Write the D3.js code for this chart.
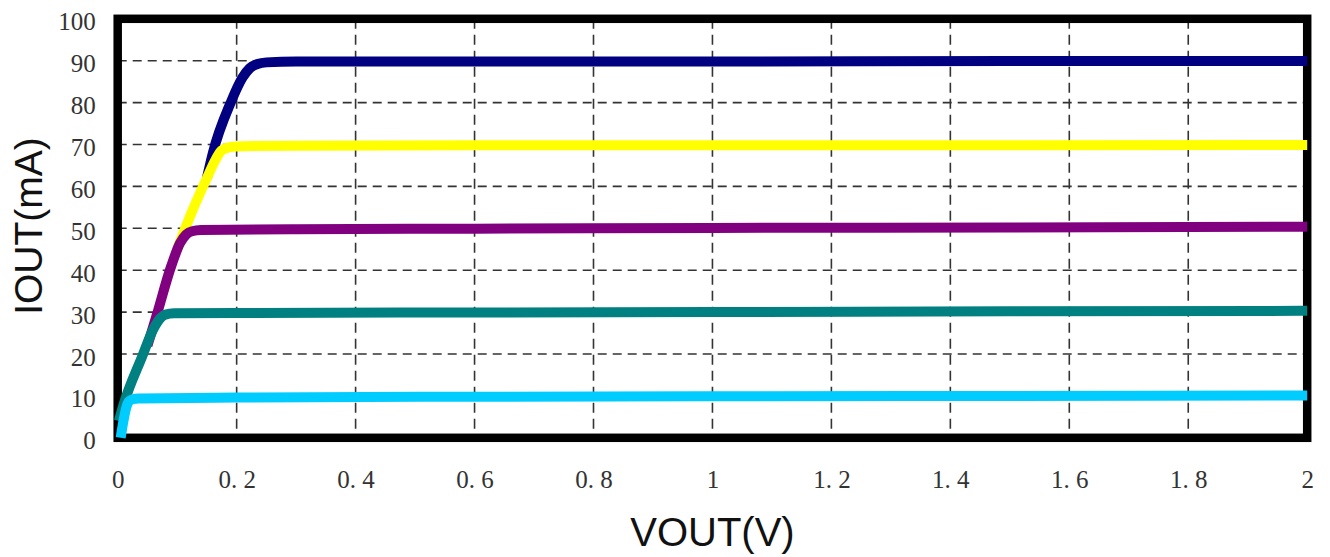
<!DOCTYPE html>
<html lang="en">
<head>
    <meta charset="UTF-8">
    <title>IOUT vs VOUT</title>
    <script src="https://d3js.org/d3.v7.min.js"></script>
    <style>
        body { margin: 0; background: #fff; }
    </style>
</head>
<body>
    <script>

        // tick values
        var xTicks = [0, 0.2, 0.4, 0.6, 0.8, 1, 1.2, 1.4, 1.6, 1.8, 2]
        var yTicks = [0, 10, 20, 30, 40, 50, 60, 70, 80, 90, 100]

        // curves (VOUT in V, IOUT in mA)
        var navyV = [0.15, 0.16, 0.19, 0.21, 0.222, 0.235, 0.25, 0.3, 0.6, 1, 1.5, 2]
        var navyI = [62, 68, 80, 86, 88.2, 89.2, 89.6, 89.8, 89.8, 89.8, 89.9, 89.9]

        var yellowV = [0.1, 0.125, 0.15, 0.165, 0.175, 0.19, 0.21, 0.3, 0.6, 1, 1.5, 2]
        var yellowI = [45, 54, 62, 66.5, 68.6, 69.4, 69.6, 69.7, 69.8, 69.8, 69.8, 69.9]

        var purpleV = [0.05, 0.065, 0.09, 0.105, 0.115, 0.125, 0.14, 0.3, 0.6, 1, 1.5, 2]
        var purpleI = [22, 29, 41, 46.5, 48.5, 49.3, 49.6, 49.8, 49.9, 50.1, 50.2, 50.4]

        var tealV = [0.002, 0.01, 0.04, 0.062, 0.072, 0.08, 0.095, 0.2, 0.6, 1, 1.5, 2]
        var tealI = [4, 8, 19, 26.5, 28.6, 29.4, 29.7, 29.8, 29.9, 30, 30.2, 30.3]

        var cyanV = [0.005, 0.009, 0.014, 0.019, 0.025, 0.035, 0.2, 0.6, 1, 1.5, 2]
        var cyanI = [0, 3.5, 7, 8.7, 9.2, 9.4, 9.6, 9.8, 9.9, 10, 10.1]

        var series = [
            {name: '90mA', v: navyV, i: navyI, color: '#000080'},
            {name: '70mA', v: yellowV, i: yellowI, color: '#ffff00'},
            {name: '50mA', v: purpleV, i: purpleI, color: '#800080'},
            {name: '30mA', v: tealV, i: tealI, color: '#008080'},
            {name: '10mA', v: cyanV, i: cyanI, color: '#00ccff'}
        ]

        var w = 1330, h = 557

        var svg = d3.select('body')
                    .append('svg')
                    .attr('width', w)
                    .attr('height', h)

        var xScale = d3.scaleLinear()
                        .domain([0, 2])
                        .range([117.7, 1307.2])

        var yScale = d3.scaleLinear()
                        .domain([0, 100])
                        .range([437.8, 18.8])

        // dashed grid
        svg.append('g')
            .selectAll('line')
            .data(yTicks.slice(1, -1))
            .enter()
            .append('line')
            .attr('x1', xScale(0))
            .attr('x2', xScale(2))
            .attr('y1', d => yScale(d))
            .attr('y2', d => yScale(d))
            .attr('stroke', '#333')
            .attr('stroke-width', 1.6)
            .attr('stroke-dasharray', '9,6')

        svg.append('g')
            .selectAll('line')
            .data(xTicks.slice(1, -1))
            .enter()
            .append('line')
            .attr('x1', d => xScale(d))
            .attr('x2', d => xScale(d))
            .attr('y1', yScale(100))
            .attr('y2', yScale(0))
            .attr('stroke', '#333')
            .attr('stroke-width', 1.6)
            .attr('stroke-dasharray', '10,6')

        // thick frame
        svg.append('rect')
            .attr('x', xScale(0))
            .attr('y', yScale(100))
            .attr('width', xScale(2) - xScale(0))
            .attr('height', yScale(0) - yScale(100))
            .attr('fill', 'none')
            .attr('stroke', '#000')
            .attr('stroke-width', 8.5)

        // curves
        var line = d3.line()
                    .x(d => xScale(d[0]))
                    .y(d => yScale(d[1]))
                    .curve(d3.curveMonotoneX)

        svg.append('g')
            .selectAll('path')
            .data(series)
            .enter()
            .append('path')
            .attr('d', s => line(s.v.map((v, k) => [v, s.i[k]])))
            .attr('fill', 'none')
            .attr('stroke', s => s.color)
            .attr('stroke-width', 10)
            .attr('stroke-linejoin', 'round')

        // axes
        var fmtX = d => d === 0 || d === 1 || d === 2 ? String(d) : d3.format('.1f')(d).replace('.', '. ')

        var axisx = d3.axisBottom(xScale)
                        .tickValues(xTicks)
                        .tickSize(0)
                        .tickFormat(fmtX)

        var axisy = d3.axisLeft(yScale)
                        .tickValues(yTicks)
                        .tickSize(0)
                        .tickPadding(22)

        var gx = svg.append('g')
            .attr('transform', 'translate(0, ' + yScale(0) + ')')
            .call(axisx)
        gx.select('.domain').remove()
        gx.selectAll('text')
            .attr('y', 50)
            .attr('dy', 0)
            .attr('font-family', '"Liberation Serif", serif')
            .attr('font-size', 25)
            .attr('fill', '#333')

        var gy = svg.append('g')
            .attr('transform', 'translate(' + xScale(0) + ', 0)')
            .call(axisy)
        gy.select('.domain').remove()
        gy.selectAll('text')
            .attr('dy', '0.44em')
            .attr('font-family', '"Liberation Serif", serif')
            .attr('font-size', 25)
            .attr('fill', '#333')

        // axis titles
        svg.append('text')
            .attr('x', xScale(1))
            .attr('y', 546)
            .attr('text-anchor', 'middle')
            .attr('font-family', '"Liberation Sans", Arial, sans-serif')
            .attr('font-size', 40)
            .attr('fill', '#111')
            .text('VOUT(V)')

        svg.append('text')
            .attr('transform', 'translate(42, 226) rotate(-90)')
            .attr('text-anchor', 'middle')
            .attr('font-family', '"Liberation Sans", Arial, sans-serif')
            .attr('font-size', 39)
            .attr('fill', '#111')
            .text('IOUT(mA)')

    </script>
</body>
</html>
